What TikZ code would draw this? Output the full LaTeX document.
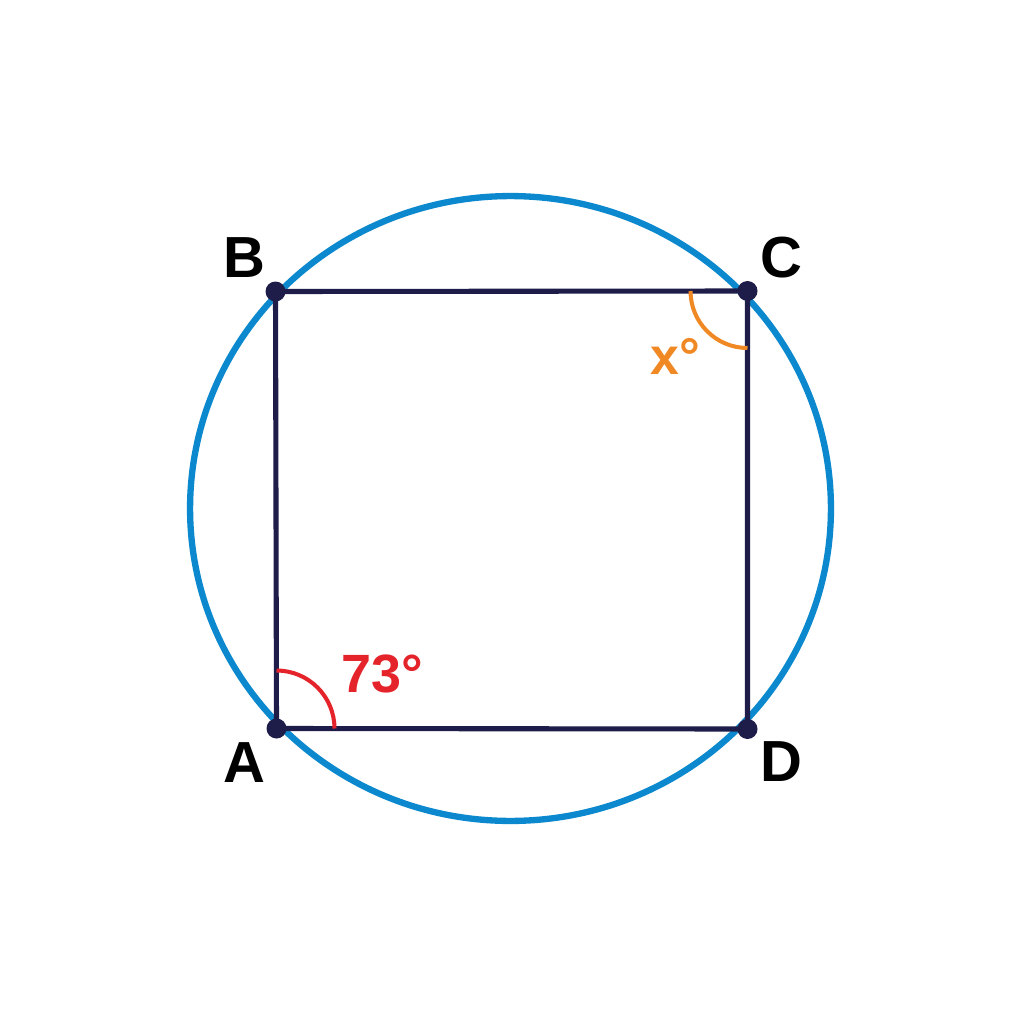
\documentclass[tikz,border=0pt]{standalone}
\usepackage{fontspec}
\setmainfont{Liberation Sans}
\definecolor{navy}{RGB}{30,29,74}
\definecolor{cblue}{RGB}{12,137,206}
\definecolor{ared}{RGB}{228,35,42}
\definecolor{aorange}{RGB}{240,136,36}
\tikzset{
  circ/.style={draw=cblue,line width=3.6pt},
  side/.style={draw=navy,line width=2.9pt},
  vdot/.style={fill=navy},
  vlabel/.style={font=\fontsize{33}{36}\selectfont\bfseries,text=black,inner sep=0pt},
  redarc/.style={draw=ared,line width=2.3pt},
  orarc/.style={draw=aorange,line width=2.3pt},
}
\begin{document}
\begin{tikzpicture}[x=0.02cm,y=-0.02cm]
\path[fill=white,use as bounding box] (0,0) rectangle (1024,1024);
\coordinate (O) at (510.5,508.5);
\coordinate (A) at (276.5,728.5);
\coordinate (B) at (275.5,291.5);
\coordinate (C) at (747.5,291);
\coordinate (D) at (747.5,729);
\draw[circ] (O) ellipse [x radius=64.1mm, y radius=62.5mm];
\draw[side] (A) -- (B) -- (C) -- (D) -- cycle;
\draw[redarc] ([xshift=11.6mm]A) arc[start angle=0,end angle=90,radius=11.6mm];
\draw[orarc] ([xshift=-11.4mm]C) arc[start angle=180,end angle=270,radius=11.4mm];
\foreach \p in {A,B,C,D} \fill[vdot] (\p) circle (2mm);
\node[vlabel] (lB) at (244.5,258) {B};
\node[vlabel] (lC) at (781.5,258) {C};
\node[vlabel] (lA) at (244,763) {A};
\node[vlabel] (lD) at (781,761.5) {D};
\node[font=\fontsize{30.7}{34}\selectfont\bfseries,text=ared,anchor=base,inner sep=0pt] (t73) at (382,692) {73°};
\node[font=\fontsize{29.5}{32}\selectfont\bfseries,text=aorange,anchor=base,inner sep=0pt] (tx) at (675,374) {x°};
\end{tikzpicture}
\end{document}
